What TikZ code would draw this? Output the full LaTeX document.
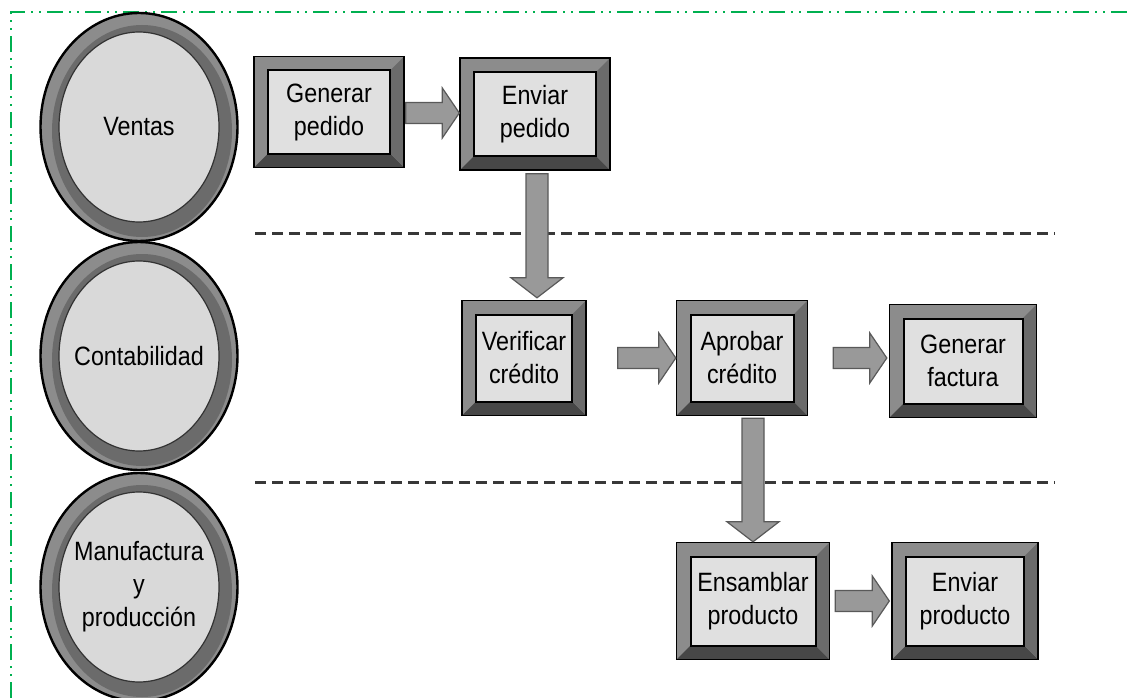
\documentclass[tikz,border=0pt]{standalone}
\usepackage{fontspec}
\setmainfont[FakeStretch=0.88]{Liberation Sans}
\usetikzlibrary{shapes.geometric,calc}

\definecolor{framegreen}{RGB}{0,176,80}

% horizontal block arrow: shaft from #1 to the tip at #2 (y taken from #1)
\newcommand{\hflow}[2]{%
  \draw[flowarrow] let \p1=(#1), \p2=(#2) in
    (\x1,\y1+10.5pt) -- (\x2-17pt,\y1+10.5pt) -- (\x2-17pt,\y1+25pt) -- (\x2,\y1)
    -- (\x2-17pt,\y1-25pt) -- (\x2-17pt,\y1-10.5pt) -- (\x1,\y1-10.5pt) -- cycle;}
% vertical block arrow: shaft from #1 down to the tip at the height of #2 (x taken from #1)
\newcommand{\vflow}[2]{%
  \draw[flowarrow] let \p1=(#1), \p2=(#2) in
    (\x1-11pt,\y1) -- (\x1-11pt,\y2+20pt) -- (\x1-26pt,\y2+20pt) -- (\x1,\y2)
    -- (\x1+26pt,\y2+20pt) -- (\x1+11pt,\y2+20pt) -- (\x1+11pt,\y1) -- cycle;}

\tikzset{
  txt/.style={font={\fontsize{26.5}{33}\selectfont}, align=center, text=black},
  dept/.style={ellipse, txt, inner sep=0pt, minimum width=197pt, minimum height=228pt,
    draw=black, line width=2.4pt, fill=black!45,
    path picture={
      \fill[black!58] ([shift={(3pt,-4pt)}]path picture bounding box.center)
        ellipse [x radius=90pt, y radius=106pt];
      \draw[black!80, line width=1.2pt, fill=black!15] (path picture bounding box.center)
        ellipse [x radius=80pt, y radius=95pt];
    }},
  stepbox/.style={rectangle, txt, inner sep=0pt, draw=black, line width=1.4pt, fill=black!45,
    path picture={
      \fill[black!72] (path picture bounding box.south west)
        -- (path picture bounding box.south east)
        -- ([shift={(-14pt,14pt)}]path picture bounding box.south east)
        -- ([shift={(14pt,14pt)}]path picture bounding box.south west) -- cycle;
      \fill[black!58] (path picture bounding box.south east)
        -- (path picture bounding box.north east)
        -- ([shift={(-14pt,-14pt)}]path picture bounding box.north east)
        -- ([shift={(-14pt,14pt)}]path picture bounding box.south east) -- cycle;
      \draw[black, line width=2pt, fill=black!12]
        ([shift={(14pt,14pt)}]path picture bounding box.south west)
        rectangle ([shift={(-14pt,-14pt)}]path picture bounding box.north east);
    }},
  flowarrow/.style={fill=black!40, draw=black!65, line width=1.2pt, line join=miter},
  lane/.style={draw=black!78, line width=3pt, dash pattern=on 11pt off 6pt},
  outline/.style={draw=framegreen, line width=2pt,
    dash pattern=on 16pt off 6pt on 2pt off 6pt on 2pt off 6pt}
}

\begin{document}
\begin{tikzpicture}[x=1pt, y=-1pt]
\useasboundingbox (0,0) rectangle (1132,698);

% outer frame
\draw[outline] (11,698) -- (11,12) -- (1132,12);

% lane separators
\draw[lane] (255,233) -- (1055,233);
\draw[lane] (255,482) -- (1055,482);

% departments
\node[dept] (ventas) at (139,127) {Ventas};
\node[dept] (conta) at (139,356) {Contabilidad};
\node[dept] (manu) at (139,587) {Manufactura\\y\\producción};

% process steps
\node[stepbox, minimum width=150pt, minimum height=111pt] (gp) at (329,112) {Generar\\pedido};
\node[stepbox, minimum width=150pt, minimum height=112pt] (ep) at (535,114) {Enviar\\pedido};
\node[stepbox, minimum width=124pt, minimum height=115pt] (vc) at (524,358) {Verificar\\crédito};
\node[stepbox, minimum width=131pt, minimum height=115pt] (ac) at (742,358) {Aprobar\\crédito};
\node[stepbox, minimum width=147pt, minimum height=113pt] (gf) at (963,361) {Generar\\factura};
\node[stepbox, minimum width=153pt, minimum height=117pt] (es) at (753,601) {Ensamblar\\producto};
\node[stepbox, minimum width=146pt, minimum height=117pt] (epr) at (965,601) {Enviar\\producto};

% flow between steps
\hflow{$(gp.east)+(1,1)$}{ep.west}
\vflow{$(ep.south)+(2,3)$}{$(vc.north)+(0,-2)$}
\hflow{$(vc.east)+(31,0)$}{ac.west}
\hflow{$(ac.east)+(25,0)$}{$(gf.west)+(-2,0)$}
\vflow{$(ac.south)+(11,2)$}{es.north}
\hflow{$(es.east)+(5,0)$}{$(epr.west)+(-2,0)$}
\end{tikzpicture}
\end{document}
